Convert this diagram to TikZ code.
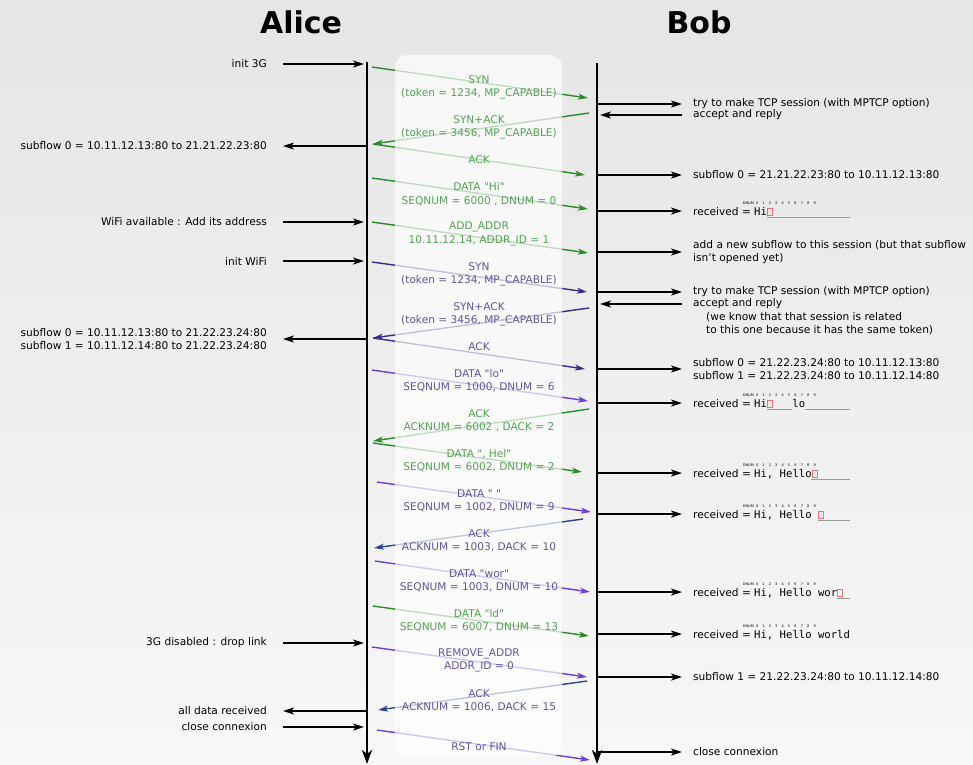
\documentclass[tikz,border=0pt]{standalone}
\usepackage{xcolor}
\usepackage{fontspec}
\setmainfont{DejaVu Sans}
\setmonofont{DejaVu Sans Mono}
\usepackage{tikz}
\usetikzlibrary{arrows.meta, calc, positioning}
\definecolor{msggreen}{rgb}{0.16, 0.55, 0.16}
\definecolor{msgpurple}{rgb}{0.24, 0.16, 0.55}
\definecolor{msgviolet}{rgb}{0.43, 0.24, 0.86}
\definecolor{msgblue}{rgb}{0.16, 0.28, 0.55}
\definecolor{holered}{rgb}{0.93, 0.45, 0.45}
\newcommand{\dnumrow}{%
  \node[dnum, anchor=east] (dnlbl) at (0,-12) {DNUM};
  \foreach \d in {0,...,9} {\node[dnum] (dn\d) at (\d+0.5,-12) {\d};}}
\newcommand{\qd}{\textquotedbl}

\begin{document}
\begin{tikzpicture}[x=1pt, y=-1pt,
    every node/.style={inner sep=0pt, font=\fontsize{10.6}{13.3}\selectfont},
    lifeline/.style={line width=2.8pt, -{Stealth[length=14pt, width=10pt, inset=4pt]}},
    side/.style={line width=1.8pt, -{Stealth[length=11pt, width=7pt, inset=3pt]}},
    msg/.style={line width=1.4pt, -{Stealth[length=10pt, width=6pt, inset=2.5pt]}},
    lbl/.style={align=center},
    title/.style={font=\fontsize{30}{36}\selectfont\bfseries},
    rcvd/.style={anchor=base west, font=\fontsize{10.6}{13.3}\selectfont\ttfamily},
    dnum/.style={font=\fontsize{3.5}{4}\selectfont},
    gap/.style={draw=black!40, line width=0.6pt},
    hole/.style={draw=holered, line width=0.7pt}]

\useasboundingbox (0,0) rectangle (973,764);
\shade[top color=black!10, bottom color=black!3] (0,0) rectangle (973,764);

\node[title] (alice) at (301,22.5) {Alice};
\node[title] (bob) at (699,22.5) {Bob};

\coordinate (atop) at (367,62);
\coordinate (abot) at (367,764);
\coordinate (btop) at (597,63);
\coordinate (bbot) at (597,764);

%% messages : start / end / colour
\foreach \i/\xa/\ya/\xb/\yb/\col in {
    1/372/67/588/98/msggreen, 2/589/113/373/144/msggreen, 3/373/144/585/175/msggreen,
    4/372/178/588/209/msggreen, 5/372/222/588/253/msggreen,
    6/372/262/587/292/msgpurple, 7/589/308/373/338/msgpurple, 8/373/338/585/369/msgpurple,
    9/372/370/588/401/msgviolet, 10/589/409/373/441/msggreen, 11/373/443/582/472/msggreen,
    12/377/482/591/512/msgviolet, 13/583/519/374/548/msgblue, 14/375/561/590/592/msgviolet,
    15/373/606/589/636/msggreen, 16/372/647/587/677/msgviolet, 17/587/681/378/710/msgblue,
    18/377/730/590/760/msgviolet} {
  \coordinate (s\i) at (\xa,\ya);
  \coordinate (e\i) at (\xb,\yb);
  \draw[msg, \col] (s\i) -- (e\i);
}

\fill[white, opacity=0.7, rounded corners=12pt] (395,55) rectangle (562,757);

\node[lbl, msggreen!80!white] (syn1) at (479,87) {SYN\\(token = 1234, MP\_CAPABLE)};
\node[lbl, msggreen!80!white] (synack1) at (479,127) {SYN+ACK\\(token = 3456, MP\_CAPABLE)};
\node[lbl, msggreen!80!white] (ack1) at (479,160) {ACK};
\node[lbl, msggreen!80!white] (datahi) at (479,194) {DATA \qd Hi\qd\\SEQNUM = 6000 , DNUM = 0};
\node[lbl, msggreen!80!white] (addaddr) at (479,234) {ADD\_ADDR\\10.11.12.14, ADDR\_ID = 1};
\node[lbl, msgpurple!80!white] (syn2) at (479,274) {SYN\\(token = 1234, MP\_CAPABLE)};
\node[lbl, msgpurple!80!white] (synack2) at (479,314) {SYN+ACK\\(token = 3456, MP\_CAPABLE)};
\node[lbl, msgpurple!80!white] (ack2) at (479,347) {ACK};
\node[lbl, msgpurple!80!white] (datalo) at (479,380.5) {DATA \qd lo\qd\\SEQNUM = 1000, DNUM = 6};
\node[lbl, msggreen!80!white] (ack3) at (479,420.5) {ACK\\ACKNUM = 6002 , DACK = 2};
\node[lbl, msggreen!80!white] (datahel) at (479,460.5) {DATA \qd, Hel\qd\\SEQNUM = 6002, DNUM = 2};
\node[lbl, msgpurple!80!white] (dataspc) at (479,500.5) {DATA \qd\ \qd\\SEQNUM = 1002, DNUM = 9};
\node[lbl, msgpurple!80!white] (ack4) at (479,540.5) {ACK\\ACKNUM = 1003, DACK = 10};
\node[lbl, msgpurple!80!white] (datawor) at (479,580.5) {DATA \qd wor\qd\\SEQNUM = 1003, DNUM = 10};
\node[lbl, msggreen!80!white] (datald) at (479,620.5) {DATA \qd ld\qd\\SEQNUM = 6007, DNUM = 13};
\node[lbl, msgpurple!80!white] (remaddr) at (479,660.5) {REMOVE\_ADDR\\ADDR\_ID = 0};
\node[lbl, msgpurple!80!white] (ack5) at (479,700.5) {ACK\\ACKNUM = 1006, DACK = 15};
\node[lbl, msgpurple!80!white] (rst) at (479,747) {RST or FIN};

\draw[lifeline] (atop) -- (abot);
\draw[lifeline] (btop) -- (bbot);

%% Alice side
\node[anchor=east] (init3g) at (267,64) {init 3G};
\node[anchor=east] (sfa0) at (267,146) {subflow 0 = 10.11.12.13:80 to 21.21.22.23:80};
\node[anchor=east] (wifi) at (267,222) {WiFi available : Add its address};
\node[anchor=east] (initwifi) at (267,261) {init WiFi};
\node[anchor=east, align=left] (sfa01) at (267,339) {subflow 0 = 10.11.12.13:80 to 21.22.23.24:80\\subflow 1 = 10.11.12.14:80 to 21.22.23.24:80};
\node[anchor=east] (drop) at (267,643) {3G disabled : drop link};
\node[anchor=east] (alldata) at (267,711) {all data received};
\node[anchor=east] (closea) at (267,727) {close connexion};

\draw[side, shorten >=3pt] ([xshift=16pt]init3g.east) -- (atop |- init3g);
\draw[side] (atop |- sfa0) -- ([xshift=16pt]sfa0.east);
\draw[side, shorten >=3pt] ([xshift=16pt]wifi.east) -- (atop |- wifi);
\draw[side, shorten >=3pt] ([xshift=16pt]initwifi.east) -- (atop |- initwifi);
\draw[side] (atop |- sfa01) -- ([xshift=16pt]sfa01.east);
\draw[side, shorten >=3pt] ([xshift=16pt]drop.east) -- (atop |- drop);
\draw[side] (atop |- alldata) -- ([xshift=16pt]alldata.east);
\draw[side, shorten >=3pt] ([xshift=16pt]closea.east) -- (atop |- closea);

%% Bob side
\node[anchor=west] (try1) at (693,104) {try to make TCP session (with MPTCP option)};
\node[anchor=west] (acc1) at (693,115) {accept and reply};
\node[anchor=west] (sfb0) at (693,175) {subflow 0 = 21.21.22.23:80 to 10.11.12.13:80};
\node[anchor=west, align=left] (addsf) at (693,252) {add a new subflow to this session (but that subflow\\isn't opened yet)};
\node[anchor=west] (try2) at (693,292) {try to make TCP session (with MPTCP option)};
\node[anchor=west] (acc2) at (693,304) {accept and reply};
\node[anchor=west, align=left] (know) at (706,324) {(we know that that session is related\\to this one because it has the same token)};
\node[anchor=west, align=left] (sfb01) at (693,369) {subflow 0 = 21.22.23.24:80 to 10.11.12.13:80\\subflow 1 = 21.22.23.24:80 to 10.11.12.14:80};
\node[anchor=west] (sfb1) at (693,677) {subflow 1 = 21.22.23.24:80 to 10.11.12.14:80};
\node[anchor=west] (closeb) at (693,752) {close connexion};

\draw[side] (btop |- try1) -- ([xshift=-11pt]try1.west);
\draw[side, shorten >=3pt] ([xshift=-11pt]acc1.west) -- (btop |- acc1);
\draw[side] (btop |- sfb0) -- ([xshift=-11pt]sfb0.west);
\draw[side] (btop |- addsf) -- ([xshift=-11pt]addsf.west);
\draw[side] (btop |- try2) -- ([xshift=-11pt]try2.west);
\draw[side, shorten >=3pt] ([xshift=-11pt]acc2.west) -- (btop |- acc2);
\draw[side] (btop |- sfb01) -- ([xshift=-11pt]sfb01.west);
\draw[side] (btop |- sfb1) -- ([xshift=-11pt]sfb1.west);
\draw[side] (btop |- closeb) -- ([xshift=-11pt]closeb.west);

%% received buffers
\node[anchor=base west] (rcv1) at (693,215) {received =};
\node[anchor=base west] (rcv2) at (693,407) {received =};
\node[anchor=base west] (rcv3) at (693,477) {received =};
\node[anchor=base west] (rcv4) at (693,518) {received =};
\node[anchor=base west] (rcv5) at (693,596) {received =};
\node[anchor=base west] (rcv6) at (693,638) {received =};
\foreach \r in {1,...,6} {\draw[side] (btop |- rcv\r) -- ([xshift=-11pt]rcv\r.west);}

\begin{scope}[shift={(754,215)}, x=6.38pt]
  \node[rcvd] (buf1) at (0,0) {Hi};
  \draw[hole] (2.1,0) rectangle (2.9,-7);
  \draw[gap] (2,2) -- (15,2);
  \dnumrow
\end{scope}
\begin{scope}[shift={(754,407)}, x=6.38pt]
  \node[rcvd] (buf2) at (0,0) {Hi};
  \node[rcvd] (buf2b) at (6,0) {lo};
  \draw[hole] (2.1,0) rectangle (2.9,-7);
  \draw[gap] (2,2) -- (6,2);
  \draw[gap] (8,2) -- (15,2);
  \dnumrow
\end{scope}
\begin{scope}[shift={(754,477)}, x=6.38pt]
  \node[rcvd] (buf3) at (0,0) {Hi, Hello};
  \draw[hole] (9.1,0) rectangle (9.9,-7);
  \draw[gap] (9,2) -- (15,2);
  \dnumrow
\end{scope}
\begin{scope}[shift={(754,518)}, x=6.38pt]
  \node[rcvd] (buf4) at (0,0) {Hi, Hello};
  \draw[hole] (10.1,0) rectangle (10.9,-7);
  \draw[gap] (10,2) -- (15,2);
  \dnumrow
\end{scope}
\begin{scope}[shift={(754,596)}, x=6.38pt]
  \node[rcvd] (buf5) at (0,0) {Hi, Hello wor};
  \draw[hole] (13.1,0) rectangle (13.9,-7);
  \draw[gap] (13,2) -- (15,2);
  \dnumrow
\end{scope}
\begin{scope}[shift={(754,638)}, x=6.38pt]
  \node[rcvd] (buf6) at (0,0) {Hi, Hello world};
  \dnumrow
\end{scope}
\end{tikzpicture}
\end{document}
